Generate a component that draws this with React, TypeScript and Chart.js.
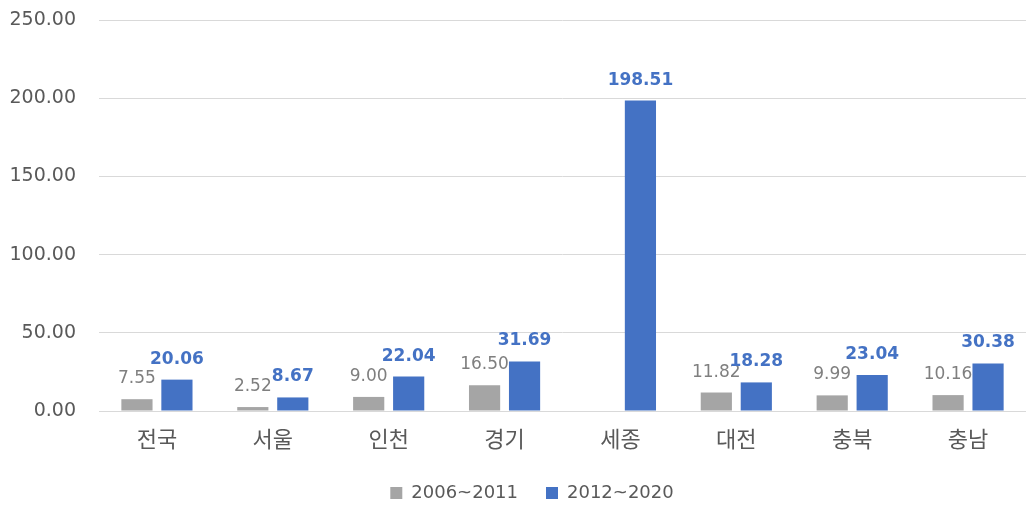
import React, { useEffect, useRef } from "react";
import { Chart, registerables } from "chart.js";

Chart.register(...registerables);

const categories = ["전국", "서울", "인천", "경기", "세종", "대전", "충북", "충남"];
const series2006 = [7.55, 2.52, 9.0, 16.5, null, 11.82, 9.99, 10.16];
const series2012 = [20.06, 8.67, 22.04, 31.69, 198.51, 18.28, 23.04, 30.38];
const seriesNames = ["2006~2011", "2012~2020"];

const FONT = '"Noto Sans CJK KR", "Noto Sans", sans-serif';
const NUMFONT = '"DejaVu Sans", "Noto Sans", sans-serif';
const GREY = "#A5A5A5";
const BLUE = "#4472C4";

const labelPlugin = {
  id: "barLabels",
  afterLayout(chart: any) {
    const lg = chart.legend;
    if (lg) {
      lg.left += 19;
      lg.right += 19;
      lg.top += 3;
      lg.bottom += 3;
    }
  },
  afterDatasetsDraw(chart: any) {
    const ctx = chart.ctx;
    chart.data.datasets.forEach((ds: any, di: number) => {
      const meta = chart.getDatasetMeta(di);
      meta.data.forEach((el: any, i: number) => {
        const v = ds.data[i];
        if (v === null || v === undefined) return;
        ctx.save();
        ctx.font = di === 1 ? `bold 17px ${NUMFONT}` : `17px ${NUMFONT}`;
        ctx.fillStyle = di === 1 ? BLUE : "#7F7F7F";
        ctx.textAlign = "center";
        ctx.textBaseline = "alphabetic";
        ctx.fillText(Number(v).toFixed(2), el.x, el.y - 16);
        ctx.restore();
      });
    });
  },
};

export default function App() {
  const ref = useRef<HTMLCanvasElement | null>(null);
  useEffect(() => {
    if (!ref.current) return;
    const chart = new Chart(ref.current, {
      type: "bar",
      data: {
        labels: categories,
        datasets: [
          {
            label: seriesNames[0],
            data: series2006 as any,
            backgroundColor: GREY,
            categoryPercentage: 0.69,
            barPercentage: 0.78,
          },
          {
            label: seriesNames[1],
            data: series2012,
            backgroundColor: BLUE,
            categoryPercentage: 0.69,
            barPercentage: 0.78,
          },
        ],
      },
      options: {
        responsive: false,
        animation: false,
        layout: { padding: { top: 20, right: 0, left: 0, bottom: 0 } },
        plugins: {
          tooltip: { enabled: false },
          legend: {
            position: "bottom",
            labels: {
              boxWidth: 12,
              boxHeight: 12,
              color: "#595959",
              font: { family: NUMFONT, size: 18 },
              padding: 28,
            },
          },
        },
        scales: {
          x: {
            afterFit: (scale: any) => {
              scale.paddingLeft = 0;
              scale.paddingRight = 0;
              scale.height = 42;
            },
            grid: { display: false, drawTicks: false },
            border: { display: true, color: "#D9D9D9" },
            ticks: {
              color: "#595959",
              font: { family: FONT, size: 22 },
              padding: 14,
            },
          },
          y: {
            min: 0,
            max: 250,
            afterFit: (scale: any) => {
              scale.width = 99;
              scale.paddingTop = 0;
              scale.paddingBottom = 0;
            },
            grid: { color: "#D9D9D9", drawTicks: false },
            border: { display: false },
            ticks: {
              stepSize: 50,
              padding: 23,
              color: "#595959",
              font: { family: NUMFONT, size: 19 },
              callback: (v: any) => Number(v).toFixed(2),
            },
          },
        },
      },
      plugins: [labelPlugin],
    });
    return () => chart.destroy();
  }, []);
  return (
    <div style={{ position: "fixed", left: 0, top: 0, width: 1026, height: 509, background: "#fff" }}>
      <canvas ref={ref} width={1026} height={509} />
    </div>
  );
}
